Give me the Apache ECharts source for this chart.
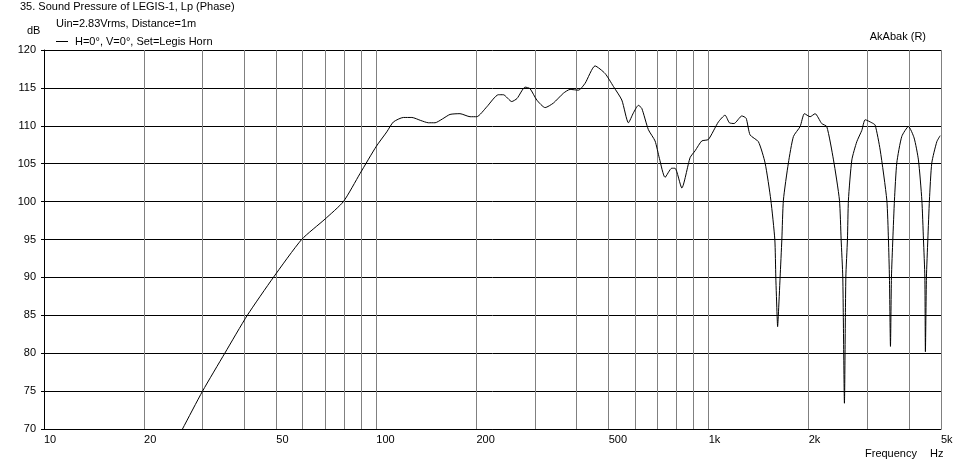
<!DOCTYPE html>
<html><head><meta charset="utf-8">
<script src="https://cdn.jsdelivr.net/npm/echarts@6/dist/echarts.min.js"></script>
<style>html,body{margin:0;padding:0;background:#fff}#c{width:966px;height:466px}</style>
</head><body><div id="c"></div>
<script>
const freqs = [24, 26.1, 30, 35, 40.9, 49, 59.6, 70.1, 79.6, 89.3, 100, 107.5, 112.5, 120.6, 127.9, 136, 143.4, 150.2, 158, 166.6, 178.5, 191.4, 200.5, 214.9, 232.9, 241, 255.5, 265, 280.3, 290, 303.9, 322, 341, 365.5, 382.8, 405.5, 424.6, 455, 487.8, 516.6, 547.7, 573.4, 593.5, 614.4, 629, 658.3, 689.6, 710.7, 739, 774, 792, 830, 879, 910, 953, 998, 1069, 1120, 1154, 1192, 1258, 1296, 1332, 1411, 1478, 1538, 1581, 1592, 1606, 1612, 1620, 1640, 1660, 1678, 1737, 1799, 1884, 1941, 2019, 2090, 2188, 2266, 2374, 2474, 2503, 2532, 2561, 2586, 2615, 2633, 2696, 2790, 2889, 2957, 3096, 3168, 3281, 3435, 3474, 3498, 3523, 3547, 3581, 3622, 3681, 3811, 3991, 4150, 4276, 4379, 4428, 4471, 4488, 4520, 4564, 4615, 4691, 4857, 4972];
const spl = [67, 70, 75, 80, 85, 90, 95, 97.7, 100, 103.7, 107.3, 109.2, 110.5, 111.1, 111.1, 110.7, 110.4, 110.4, 110.9, 111.5, 111.6, 111.2, 111.2, 112.5, 114.1, 114.1, 113.2, 113.6, 115.1, 114.9, 113.4, 112.4, 113.0, 114.3, 114.8, 114.7, 115.6, 117.9, 116.9, 115.2, 113.4, 110.4, 111.7, 112.7, 112.3, 109.5, 108.0, 105.7, 103.2, 104.4, 104.4, 101.8, 105.8, 106.7, 108.0, 108.2, 110.5, 111.4, 110.4, 110.3, 111.3, 111.0, 108.8, 107.9, 105.1, 100.2, 95, 90, 85, 83.5, 85, 90, 95, 100.2, 105.1, 108.6, 109.9, 111.6, 111.2, 111.6, 110.3, 109.9, 105.5, 100.2, 95, 90, 73.4, 90, 95, 100.2, 105.5, 107.9, 109.4, 110.8, 110.4, 110.1, 106.8, 100.2, 95, 90, 80.9, 90, 95, 100.2, 105.1, 108.6, 109.9, 108.4, 105.5, 100.2, 95, 90, 80.2, 90, 95, 100.2, 105.1, 107.9, 108.7];
const xLabelValues = [10, 20, 50, 100, 200, 500, 1000, 2000, 5000];
const xGridValues = [10, 20, 30, 40, 50, 60, 70, 80, 90, 100, 200, 300, 400, 500, 600, 700, 800, 900, 1000, 2000, 3000, 4000, 5000];
const yMin = 70, yMax = 120, yStep = 5;
const titleText = '35. Sound Pressure of LEGIS-1, Lp (Phase)';
const subText = 'Uin=2.83Vrms, Distance=1m';
const seriesName = 'H=0°, V=0°, Set=Legis Horn';

const FONT = "'Liberation Sans', Arial, sans-serif";
const txt = (x, y, s, align) => ({ type: 'text', x: x, y: y, style: { text: s, fill: '#000', font: '11px ' + FONT, textAlign: align || 'left', textVerticalAlign: 'middle' } });

const chart = echarts.init(document.getElementById('c'), null, { renderer: 'canvas' });
chart.setOption({
  backgroundColor: '#fff',
  animation: false,
  textStyle: { fontFamily: FONT, fontSize: 11, color: '#000' },
  grid: { left: 44, top: 50, right: 25, bottom: 37, containLabel: false },
  legend: {
    left: 51, top: 31, itemWidth: 12, itemHeight: 1, itemGap: 8, icon: 'rect',
    textStyle: { fontFamily: FONT, fontSize: 11, color: '#000', padding: [0, 0, 0, 2] },
    data: [{ name: seriesName, itemStyle: { color: '#000' } }]
  },
  graphic: [
    txt(20, 7, titleText),
    txt(56, 24, subText),
    txt(27, 31, 'dB'),
    txt(926, 37, 'AkAbak (R)', 'right'),
    txt(865, 454, 'Frequency'),
    txt(930, 454, 'Hz')
  ],
  xAxis: {
    type: 'log', logBase: 10, min: 10, max: 5000,
    axisLine: { show: true, lineStyle: { color: '#000', width: 1 } },
    axisTick: { show: false, customValues: xGridValues },
    axisLabel: {
      customValues: xLabelValues, align: 'left', margin: 5, color: '#000',
      fontFamily: FONT, fontSize: 11,
      formatter: v => v >= 1000 ? (v / 1000) + 'k' : String(v)
    },
    splitLine: { show: true, lineStyle: { color: '#808080', width: 1 } },
    minorTick: { show: false }, minorSplitLine: { show: false }
  },
  yAxis: {
    type: 'value', min: yMin, max: yMax, interval: yStep,
    axisLine: { show: true, lineStyle: { color: '#000', width: 1 } },
    axisTick: { show: true, length: 3, lineStyle: { color: '#000' } },
    axisLabel: { margin: 8, color: '#000', fontFamily: FONT, fontSize: 11, verticalAlign: 'middle', padding: [0, 0, 8, 0] },
    splitLine: { show: true, lineStyle: { color: '#000', width: 1 } }
  },
  series: [{
    name: seriesName, type: 'line', showSymbol: false, symbol: 'none', clip: true,
    smooth: 0.2,
    lineStyle: { color: '#000', width: 1 }, itemStyle: { color: '#000' },
    data: freqs.map((f, i) => [f, spl[i]])
  }]
});
</script>
</body></html>
